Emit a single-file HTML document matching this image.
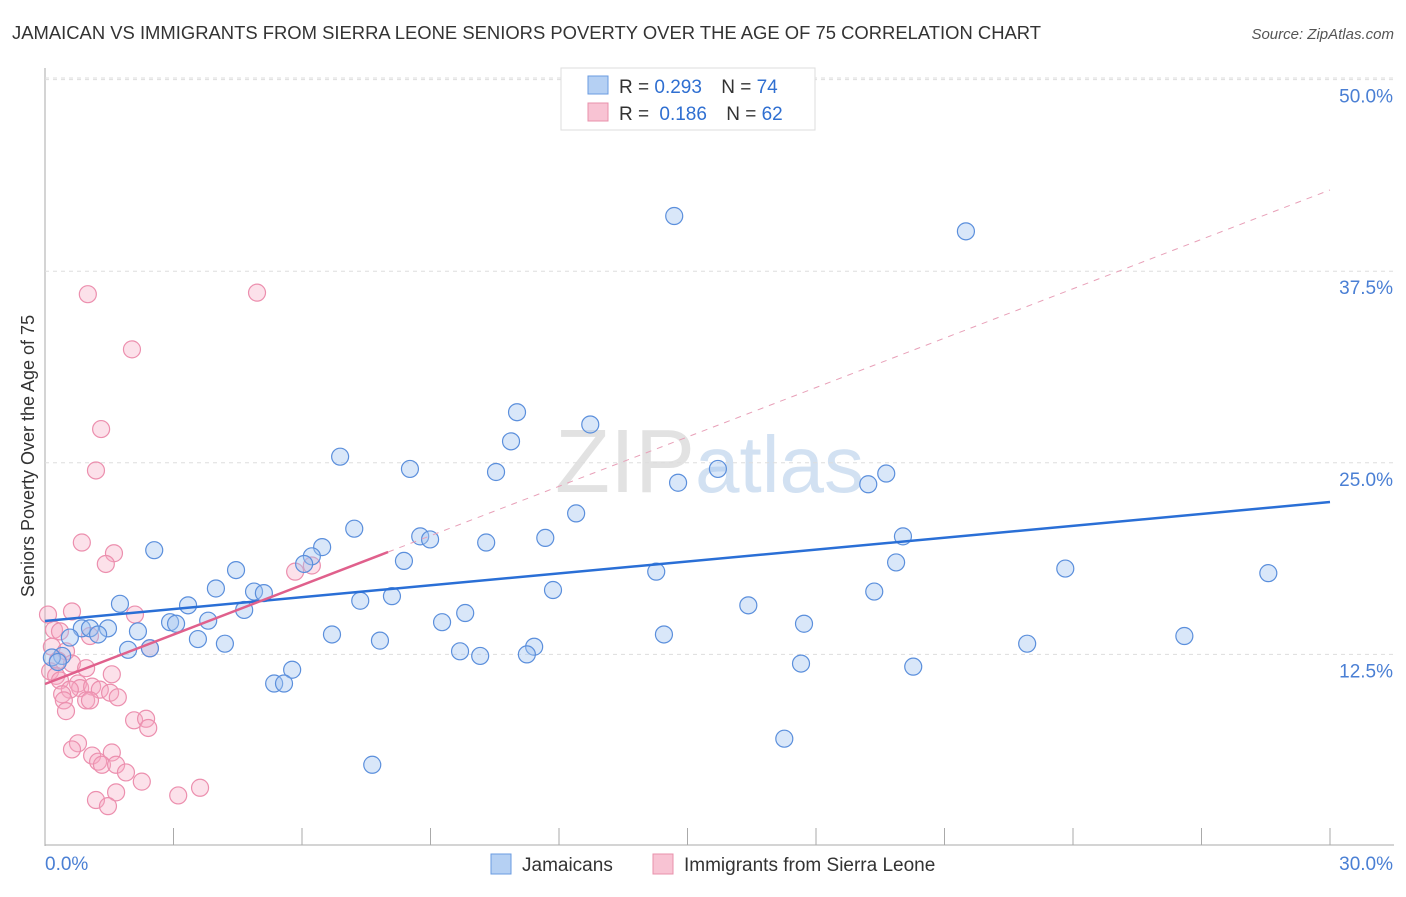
<!DOCTYPE html>
<html><head><meta charset="utf-8"><style>
body{margin:0;background:#fff;font-family:"Liberation Sans",sans-serif}
svg text{font-family:"Liberation Sans",sans-serif}
</style></head><body>
<svg id="c" width="1406" height="892">
<text x="12" y="39" font-size="18" fill="#333" textLength="1029" lengthAdjust="spacingAndGlyphs">JAMAICAN VS IMMIGRANTS FROM SIERRA LEONE SENIORS POVERTY OVER THE AGE OF 75 CORRELATION CHART</text>
<text x="1394" y="39" font-size="15" fill="#555" font-style="italic" text-anchor="end">Source: ZipAtlas.com</text>
<text x="34" y="456" font-size="18" fill="#333" text-anchor="middle" transform="rotate(-90 34 456)">Seniors Poverty Over the Age of 75</text>
<text x="555" y="492" font-size="90" fill="#e2e2e2" font-family="Liberation Serif">ZIP<tspan fill="#d2e1f2" font-family="Liberation Sans" font-size="80">atlas</tspan></text>
<g id="grid"></g><g id="marks"></g>
<g>
<rect x="561" y="68" width="254" height="62" fill="#fff" stroke="#ddd"/>
<rect x="588" y="76" width="20" height="18" fill="#b5d0f3" stroke="#6a9be0"/>
<rect x="588" y="103" width="20" height="18" fill="#f8c3d3" stroke="#e890ab"/>
<text x="619" y="93" font-size="19" fill="#333">R = <tspan fill="#2f6fd1">0.293</tspan>  <tspan dx="14">N = </tspan><tspan fill="#2f6fd1">74</tspan></text>
<text x="619" y="120" font-size="19" fill="#333">R = <tspan dx="5" fill="#2f6fd1">0.186</tspan>  <tspan dx="14">N = </tspan><tspan fill="#2f6fd1">62</tspan></text>
</g>
<g>
<rect x="491" y="854" width="20" height="20" fill="#b5d0f3" stroke="#6a9be0"/>
<text x="522" y="871" font-size="19" fill="#333">Jamaicans</text>
<rect x="653" y="854" width="20" height="20" fill="#f8c3d3" stroke="#e890ab"/>
<text x="684" y="871" font-size="19" fill="#333">Immigrants from Sierra Leone</text>
</g>
</svg>
<script>
const blueX=[14.69,21.5,11.02,12.73,10.88,6.89,8.52,10.53,15.71,14.78,19.22,19.64,12.4,7.22,8.76,8.99,10.3,11.68,20.03,2.55,6.47,6.23,6.05,8.38,19.87,4.46,14.27,23.82,28.56,3.99,4.88,5.11,11.86,8.1,7.36,1.75,3.34,4.65,16.42,19.36,9.81,3.81,2.92,3.06,9.27,17.72,0.86,1.47,1.05,2.17,0.58,1.24,6.7,14.45,26.6,3.57,4.2,7.82,22.93,11.42,1.94,2.45,9.69,10.16,11.25,0.4,0.16,0.3,17.65,20.27,5.77,5.35,5.58,17.26,7.64];
const blueY=[41.1,40.1,28.3,27.5,26.4,25.4,24.6,24.4,24.6,23.7,23.6,24.3,21.7,20.7,20.2,20.0,19.8,20.1,20.2,19.3,19.5,18.9,18.4,18.6,18.5,18.0,17.9,18.1,17.8,16.8,16.6,16.5,16.7,16.3,16.0,15.8,15.7,15.4,15.7,16.6,15.2,14.7,14.6,14.5,14.6,14.5,14.2,14.2,14.2,14.0,13.6,13.8,13.8,13.8,13.7,13.5,13.2,13.4,13.2,13.0,12.8,12.9,12.7,12.4,12.5,12.4,12.3,12.0,11.9,11.7,11.5,10.6,10.6,7.0,5.3];
const pinkX=[1.0,4.95,2.03,1.31,1.19,0.86,1.61,1.42,5.84,6.23,0.07,0.63,2.1,0.21,0.35,1.05,2.45,0.16,0.49,0.3,0.63,0.96,1.56,0.12,0.26,0.35,0.77,0.82,1.1,0.58,0.4,1.28,1.52,0.44,0.96,1.7,1.05,0.49,2.08,2.36,2.41,0.77,0.63,1.1,1.56,1.24,1.33,1.66,1.89,2.26,1.19,1.66,1.47,3.11,3.62];
const pinkY=[36.0,36.1,32.4,27.2,24.5,19.8,19.1,18.4,17.9,18.3,15.1,15.3,15.1,14.1,14.0,13.7,12.9,13.0,12.7,12.1,11.9,11.6,11.2,11.4,11.1,10.8,10.6,10.3,10.4,10.2,9.9,10.2,10.0,9.5,9.5,9.7,9.5,8.8,8.2,8.3,7.7,6.7,6.3,5.9,6.1,5.5,5.3,5.3,4.8,4.2,3.0,3.5,2.6,3.3,3.8];
const blueTrend=[14.68,22.44]; // at x=0 and x=30
const pinkTrend=[10.57,19.18,8.01,42.8]; // y0, y at end x, end x, dashed y at 30
const yTicks=[12.5,25,37.5,50];
const NS='http://www.w3.org/2000/svg';
const X=v=>45+v/30*1285, Y=v=>846-v/12.5*191.6;
function mk(t,a,p){const e=document.createElementNS(NS,t);for(const k in a)e.setAttribute(k,a[k]);p.appendChild(e);return e;}
const g=document.getElementById('grid'), m=document.getElementById('marks');
let ax=mk('line',{x1:45,y1:68,x2:45,y2:846,stroke:'#aaa'},g);


let bx=mk('line',{x1:45,y1:845,x2:1394,y2:845,stroke:'#aaa'},g);


mk('line',{x1:45,y1:78,x2:1394,y2:78,stroke:'#ddd','stroke-dasharray':'4,4'},g);
yTicks.forEach(v=>{
 const l=mk('line',{x1:45,y1:Y(v),x2:1394,y2:Y(v),stroke:'#ddd','stroke-dasharray':'4,4'},g);
 
 
 const t=mk('text',{x:1393,y:Y(v)+23,'font-size':19,fill:'#4a7fd4','text-anchor':'end'},g);t.textContent=v.toFixed(1)+'%';
 
 
});
for(let i=0;i<=10;i++){const x=X(i*3);const l=mk('line',{x1:x,y1:828,x2:x,y2:845,stroke:'#aaa'},g);
 
 }
[['0.0%',45,'start'],['30.0%',1393,'end']].forEach(([s,x,a])=>{const t=mk('text',{x:x,y:870,'font-size':19,fill:'#4a7fd4','text-anchor':a},g);t.textContent=s;
 
 });
pinkX.forEach((v,i)=>{const c=mk('circle',{cx:X(v),cy:Y(pinkY[i]),r:8.5,fill:'rgba(245,170,195,0.35)',stroke:'#ec8fae','stroke-width':1.2},m);
 
 });
blueX.forEach((v,i)=>{const c=mk('circle',{cx:X(v),cy:Y(blueY[i]),r:8.5,fill:'rgba(160,195,240,0.4)',stroke:'#5b8fdc','stroke-width':1.2},m);
 
 });
let d=mk('line',{x1:X(pinkTrend[2]),y1:Y(pinkTrend[1]),x2:X(30),y2:Y(pinkTrend[3]),stroke:'#e8a0b8','stroke-dasharray':'6,6'},m);


let bt=mk('line',{x1:X(0),y1:Y(blueTrend[0]),x2:X(30),y2:Y(blueTrend[1]),stroke:'#2a6fd6','stroke-width':2.5},m);


let pt=mk('line',{x1:X(0),y1:Y(pinkTrend[0]),x2:X(pinkTrend[2]),y2:Y(pinkTrend[1]),stroke:'#e0608c','stroke-width':2.5},m);


</script>
</body></html>
